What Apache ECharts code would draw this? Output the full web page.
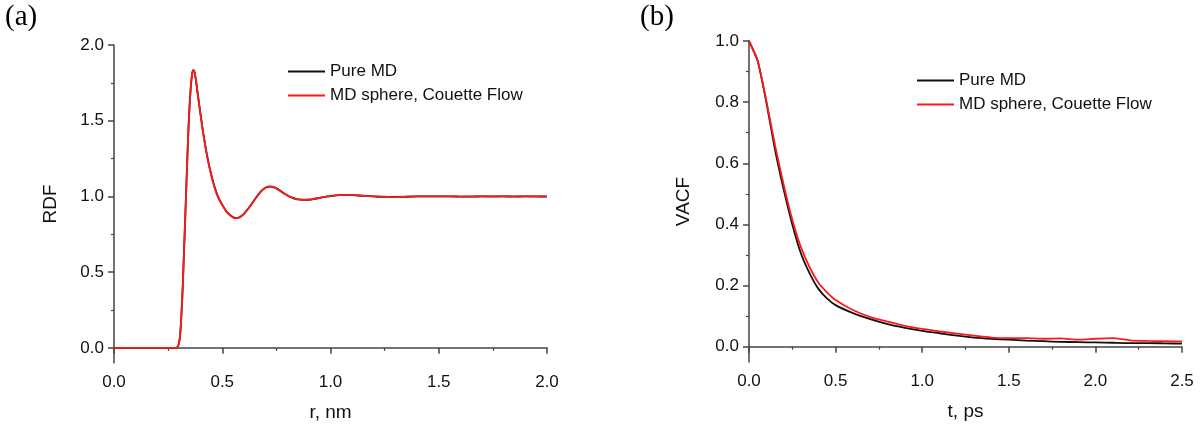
<!DOCTYPE html>
<html><head><meta charset="utf-8">
<script src="https://cdn.jsdelivr.net/npm/echarts@6/dist/echarts.min.js"></script>
<style>html,body{margin:0;padding:0;background:#fff}#c{width:1202px;height:428px}</style>
</head><body><div id="c"></div><script>
// ---- Panel (a): RDF ----
const rdfR = [0, 0.1, 0.2, 0.28, 0.29, 0.295, 0.30, 0.305, 0.31, 0.315, 0.32, 0.325, 0.33, 0.335, 0.34, 0.345, 0.35, 0.355, 0.36, 0.365, 0.37, 0.375, 0.38, 0.39, 0.40, 0.41, 0.42, 0.43, 0.44, 0.45, 0.46, 0.47, 0.48, 0.49, 0.50, 0.52, 0.54, 0.56, 0.58, 0.60, 0.62, 0.64, 0.66, 0.68, 0.70, 0.72, 0.74, 0.76, 0.78, 0.80, 0.82, 0.84, 0.86, 0.88, 0.90, 0.92, 0.95, 0.98, 1.01, 1.04, 1.07, 1.10, 1.13, 1.16, 1.20, 1.25, 1.30, 1.35, 1.40, 1.45, 1.50, 1.55, 1.60, 1.65, 1.70, 1.75, 1.80, 1.85, 1.90, 1.95, 2.0];
const rdfPure = [0, 0, 0, 0, 0.002, 0.01, 0.03, 0.08, 0.18, 0.32, 0.50, 0.70, 0.90, 1.10, 1.30, 1.48, 1.62, 1.73, 1.80, 1.83, 1.83, 1.80, 1.75, 1.645, 1.54, 1.44, 1.35, 1.27, 1.20, 1.14, 1.085, 1.04, 1.0, 0.97, 0.945, 0.90, 0.873, 0.858, 0.862, 0.885, 0.92, 0.96, 1.00, 1.035, 1.057, 1.065, 1.06, 1.045, 1.025, 1.008, 0.994, 0.984, 0.979, 0.977, 0.978, 0.982, 0.99, 0.998, 1.004, 1.008, 1.01, 1.009, 1.006, 1.003, 1.0, 0.997, 0.997, 0.998, 1.0, 1.001, 1.001, 1.0, 0.999, 0.999, 1.0, 1.0, 1.0, 0.999, 1.0, 1.0, 0.999];
const rdfSphere = [0, 0, 0, 0, 0.002, 0.01, 0.03, 0.08, 0.18, 0.32, 0.50, 0.70, 0.90, 1.10, 1.30, 1.48, 1.62, 1.73, 1.80, 1.835, 1.83, 1.80, 1.75, 1.64, 1.535, 1.435, 1.345, 1.265, 1.195, 1.135, 1.08, 1.035, 0.997, 0.967, 0.943, 0.898, 0.871, 0.855, 0.862, 0.885, 0.918, 0.958, 0.998, 1.035, 1.058, 1.066, 1.061, 1.044, 1.024, 1.007, 0.993, 0.983, 0.98, 0.978, 0.979, 0.983, 0.991, 0.999, 1.005, 1.009, 1.01, 1.009, 1.006, 1.003, 1.0, 0.998, 0.996, 0.999, 1.0, 1.001, 1.0, 1.001, 0.999, 1.0, 1.0, 0.999, 1.0, 1.0, 1.0, 0.999, 1.0];
const rdfYTicks = [0, 0.5, 1.0, 1.5, 2.0];
const rdfYMinor = [0.25, 0.75, 1.25, 1.75];

// ---- Panel (b): VACF ----
const vacfT = [0, 0.05, 0.1, 0.15, 0.2, 0.25, 0.3, 0.35, 0.4, 0.45, 0.5, 0.6, 0.7, 0.8, 0.9, 1.0, 1.1, 1.2, 1.3, 1.4, 1.5, 1.6, 1.7, 1.8, 1.9, 2.0, 2.1, 2.2, 2.3, 2.4, 2.5];
const vacfPure = [1.0, 0.935, 0.80, 0.645, 0.515, 0.40, 0.305, 0.24, 0.19, 0.158, 0.136, 0.11, 0.09, 0.074, 0.062, 0.052, 0.044, 0.036, 0.030, 0.026, 0.023, 0.020, 0.018, 0.016, 0.015, 0.014, 0.013, 0.012, 0.012, 0.011, 0.010];
const vacfSphere = [1.0, 0.935, 0.805, 0.66, 0.53, 0.415, 0.325, 0.26, 0.21, 0.178, 0.153, 0.12, 0.097, 0.082, 0.068, 0.058, 0.050, 0.043, 0.036, 0.030, 0.028, 0.028, 0.026, 0.027, 0.023, 0.026, 0.028, 0.021, 0.019, 0.018, 0.017];
const vacfYTicks = [0, 0.2, 0.4, 0.6, 0.8, 1.0];
const vacfYMinor = [0.1, 0.3, 0.5, 0.7, 0.9];

const names = ['Pure MD', 'MD sphere, Couette Flow'];
const FONT = '"Liberation Sans", Arial, sans-serif';
const AX = '#444';
const zip = (a, b) => a.map((v, i) => [v, b[i]]);

function xAx(idx, max, name) {
  return {
    type: 'value', gridIndex: idx, min: 0, max: max, interval: 0.5,
    name: name, nameLocation: 'middle', nameGap: 40,
    nameTextStyle: { fontFamily: FONT, fontSize: 19, color: '#111' },
    axisLine: { show: true, lineStyle: { color: AX, width: 1.5 } },
    axisTick: { show: true, inside: false, length: 6, lineStyle: { color: AX, width: 1.5 } },
    minorTick: { show: true, splitNumber: 2, length: 3, lineStyle: { color: AX, width: 1.2 } },
    axisLabel: { fontFamily: FONT, fontSize: 17, color: '#111', margin: 11, formatter: v => v.toFixed(1) },
    splitLine: { show: false }
  };
}
function yAx(idx, min, max, ticks, name, gap) {
  return {
    type: 'value', gridIndex: idx, min: min, max: max,
    name: name, nameLocation: 'middle', nameGap: gap, nameRotate: 90,
    nameTextStyle: { fontFamily: FONT, fontSize: 19, color: '#111' },
    axisLine: { show: true, onZero: false, lineStyle: { color: AX, width: 1.5 } },
    axisTick: { show: true, inside: false, length: 6, customValues: ticks, lineStyle: { color: AX, width: 1.5 } },
    axisLabel: { fontFamily: FONT, fontSize: 17, color: '#111', margin: 10, customValues: ticks, formatter: v => v.toFixed(1) },
    splitLine: { show: false }
  };
}
function yMinor(idx, min, max, ticks) {
  return {
    type: 'value', gridIndex: idx, min: min, max: max, position: 'left',
    axisLine: { show: false },
    axisTick: { show: true, inside: false, length: 3, customValues: ticks, lineStyle: { color: AX, width: 1.2 } },
    axisLabel: { show: false },
    splitLine: { show: false }
  };
}
function legend(left, top) {
  return {
    orient: 'vertical', left: left, top: top, data: names, padding: 0,
    icon: 'rect', itemWidth: 37, itemHeight: 2, itemGap: 7,
    textStyle: { fontFamily: FONT, fontSize: 17, color: '#111' }
  };
}
function line(name, data, xi, yi, color) {
  return { type: 'line', name: name, data: data, xAxisIndex: xi, yAxisIndex: yi,
    symbol: 'none', smooth: 0.2, lineStyle: { color: color, width: 1.8 }, itemStyle: { color: color }, animation: false };
}

const chart = echarts.init(document.getElementById('c'), null, { renderer: 'canvas' });
chart.setOption({
  backgroundColor: '#fff',
  animation: false,
  grid: [
    { left: 114, right: 655, top: 45, bottom: 65, outerBoundsMode: 'none' },
    { left: 749, right: 20, top: 41, bottom: 66, outerBoundsMode: 'none' }
  ],
  xAxis: [xAx(0, 2.0, 'r, nm'), xAx(1, 2.5, 't, ps')],
  yAxis: [
    yAx(0, -0.1, 2.0, rdfYTicks, 'RDF', 54),
    yMinor(0, -0.1, 2.0, rdfYMinor),
    yAx(1, -0.05, 1.0, vacfYTicks, 'VACF', 56),
    yMinor(1, -0.05, 1.0, vacfYMinor)
  ],
  legend: [legend(288, 63), legend(917, 72)],
  graphic: [
    { type: 'text', left: 5, top: 3, style: { text: '(a)', font: '29px "Liberation Serif", serif', fill: '#000' } },
    { type: 'text', left: 640, top: 3, style: { text: '(b)', font: '29px "Liberation Serif", serif', fill: '#000' } }
  ],
  series: [
    line(names[0], zip(rdfR, rdfPure), 0, 0, '#111'),
    line(names[1], zip(rdfR, rdfSphere), 0, 0, '#ff1a1a'),
    line(names[0], zip(vacfT, vacfPure), 1, 2, '#111'),
    line(names[1], zip(vacfT, vacfSphere), 1, 2, '#ff1a1a')
  ]
});
</script></body></html>
